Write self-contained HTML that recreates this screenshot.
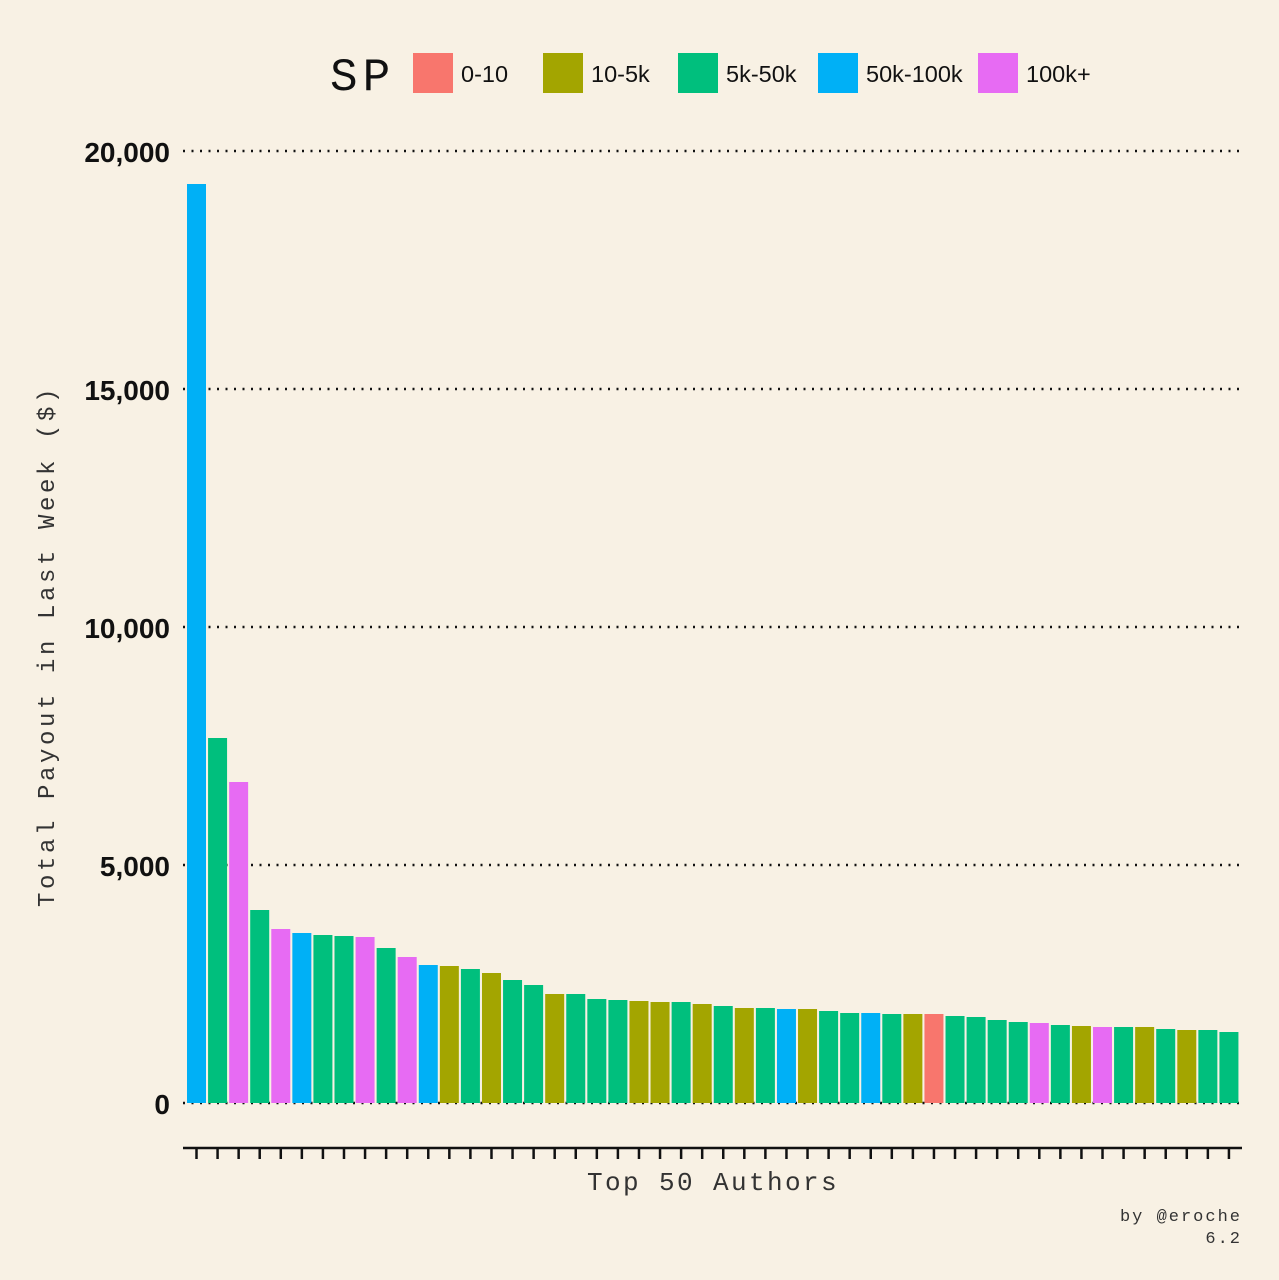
<!DOCTYPE html>
<html><head><meta charset="utf-8"><style>
html,body{margin:0;padding:0;background:#F8F1E4;}
</style></head><body>
<svg id="s" width="1279" height="1280" xmlns="http://www.w3.org/2000/svg" style="display:block">
<rect width="1279" height="1280" fill="#F8F1E4"/>
<text x="330" y="90" font-family="Liberation Mono, monospace" font-size="46" letter-spacing="5" fill="#111">SP</text>
<g font-family="Liberation Sans, sans-serif" font-size="23.5" fill="#111">
<rect x="413" y="53" width="40" height="40" fill="#F8766D"/><text x="461" y="82">0-10</text>
<rect x="543" y="53" width="40" height="40" fill="#A3A500"/><text x="591" y="82">10-5k</text>
<rect x="678" y="53" width="40" height="40" fill="#00BF7D"/><text x="726" y="82">5k-50k</text>
<rect x="818" y="53" width="40" height="40" fill="#00B0F6"/><text x="866" y="82">50k-100k</text>
<rect x="978" y="53" width="40" height="40" fill="#E76BF3"/><text x="1026" y="82">100k+</text>
</g>
<g font-family="Liberation Sans, sans-serif" font-size="28" font-weight="bold" fill="#111" text-anchor="end">
<text x="170" y="162">20,000</text><text x="170" y="400">15,000</text><text x="170" y="638">10,000</text><text x="170" y="876">5,000</text><text x="170" y="1114">0</text>
</g>
<g stroke="#111" stroke-width="2.5" stroke-dasharray="2 6.5">
<line x1="183" y1="151" x2="1240" y2="151"/><line x1="183" y1="389" x2="1240" y2="389"/><line x1="183" y1="627" x2="1240" y2="627"/><line x1="183" y1="865" x2="1240" y2="865"/><line x1="183" y1="1103" x2="1240" y2="1103"/>
</g>
<g id="bars"></g>
<line x1="183" y1="1148" x2="1242" y2="1148" stroke="#111" stroke-width="2.5"/>
<g id="ticks" stroke="#111" stroke-width="2.5"></g>
<text transform="translate(54,646) rotate(-90)" text-anchor="middle" font-family="Liberation Mono, monospace" font-size="24" letter-spacing="3.6" fill="#333">Total Payout in Last Week ($)</text>
<text x="713" y="1190" text-anchor="middle" font-family="Liberation Mono, monospace" font-size="26" letter-spacing="2.4" fill="#333">Top 50 Authors</text>
<text x="1242" y="1221" text-anchor="end" font-family="Liberation Mono, monospace" font-size="17" letter-spacing="2" fill="#333">by @eroche</text>
<text x="1242" y="1243" text-anchor="end" font-family="Liberation Mono, monospace" font-size="17" letter-spacing="2" fill="#333">6.2</text>
</svg>
<script>
var C={s:"#F8766D",o:"#A3A500",g:"#00BF7D",b:"#00B0F6",p:"#E76BF3"};
var d=[[184,"b"],[738,"g"],[782,"p"],[910,"g"],[929,"p"],[933,"b"],[935,"g"],[936,"g"],[937,"p"],[948,"g"],[957,"p"],[965,"b"],[966,"o"],[969,"g"],[973,"o"],[980,"g"],[985,"g"],[994,"o"],[994,"g"],[999,"g"],[1000,"g"],[1001,"o"],[1002,"o"],[1002,"g"],[1004,"o"],[1006,"g"],[1008,"o"],[1008,"g"],[1009,"b"],[1009,"o"],[1011,"g"],[1013,"g"],[1013,"b"],[1014,"g"],[1014,"o"],[1014,"s"],[1016,"g"],[1017,"g"],[1020,"g"],[1022,"g"],[1023,"p"],[1025,"g"],[1026,"o"],[1027,"p"],[1027,"g"],[1027,"o"],[1029,"g"],[1030,"o"],[1030,"g"],[1032,"g"]];
var ns="http://www.w3.org/2000/svg",B=document.getElementById("bars"),T=document.getElementById("ticks");
d.forEach(function(v,i){var x=187+21.07*i;var r=document.createElementNS(ns,"rect");
r.setAttribute("x",x);r.setAttribute("y",v[0]);r.setAttribute("width",19);r.setAttribute("height",1103-v[0]);r.setAttribute("fill",C[v[1]]);B.appendChild(r);
var l=document.createElementNS(ns,"line");l.setAttribute("x1",x+9.5);l.setAttribute("x2",x+9.5);l.setAttribute("y1",1148);l.setAttribute("y2",1159);T.appendChild(l);});
</script>
</body></html>
